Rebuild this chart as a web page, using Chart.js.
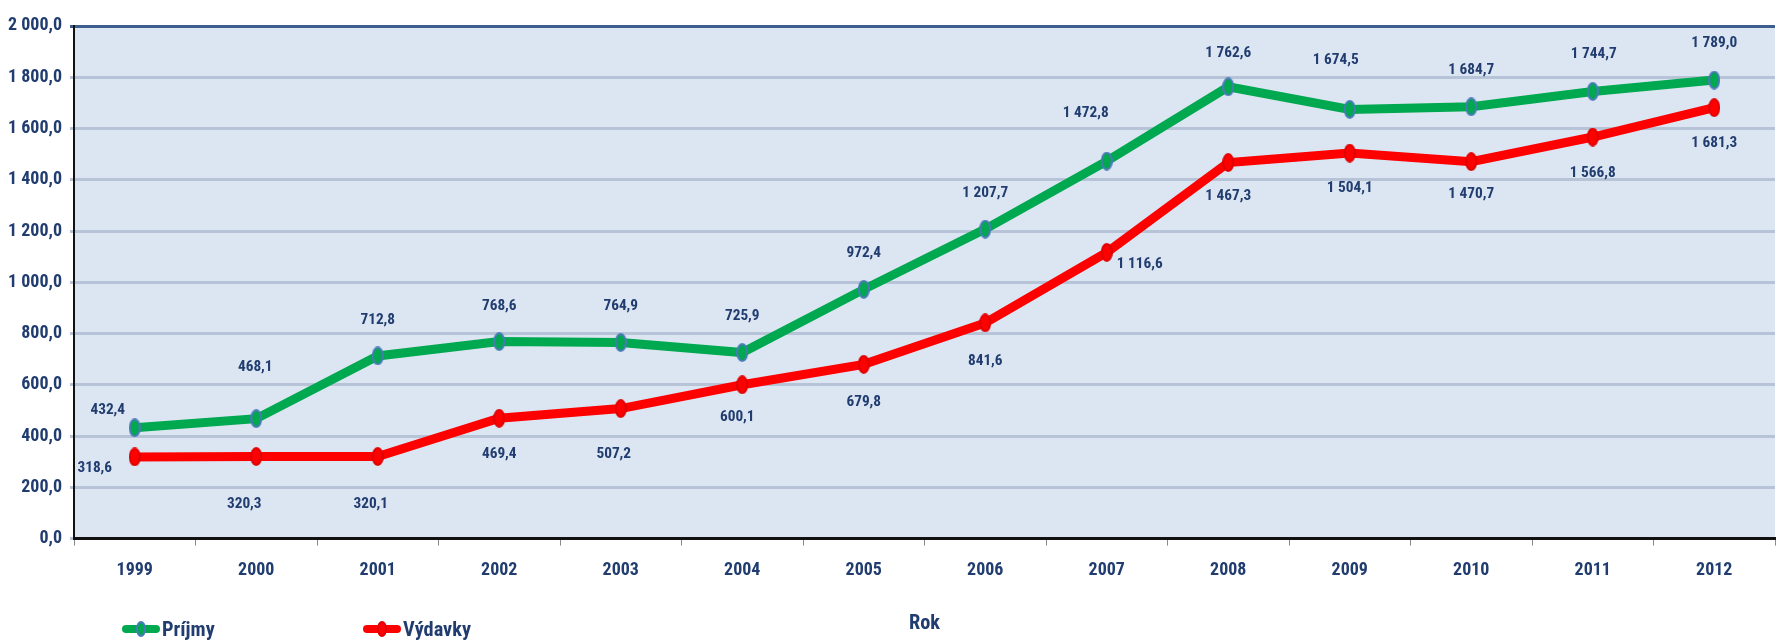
<!DOCTYPE html>
<html>
<head>
<meta charset="utf-8">
<script src="https://cdn.jsdelivr.net/npm/chart.js@4.4.1/dist/chart.umd.min.js"></script>
<style>
  html, body { margin: 0; padding: 0; background: #fff; overflow: hidden; }
  #wrap { position: relative; width: 1792px; height: 641px; }
  #legend { position: absolute; left: 0; top: 616px; width: 1000px; height: 26px; }
  .item { position: absolute; top: 0; height: 26px; display: flex; align-items: center; font-weight: bold; color: #213d70; }
  .mark { position: relative; width: 38px; height: 8px; border-radius: 4px; margin-right: 2px; }
  .mark i { position: absolute; left: 14px; top: -4px; width: 10px; height: 16px; border-radius: 50%;
            box-sizing: border-box; border: 2px solid; }
</style>
</head>
<body>
<div id="wrap">
  <canvas id="chart" width="1792" height="641"></canvas>
  <div id="legend"></div>
</div>
<script>
const years = ['1999', '2000', '2001', '2002', '2003', '2004', '2005', '2006', '2007', '2008', '2009', '2010', '2011', '2012']
const prijmy = [432.4, 468.1, 712.8, 768.6, 764.9, 725.9, 972.4, 1207.7, 1472.8, 1762.6, 1674.5, 1684.7, 1744.7, 1789.0]
const vydavky = [318.6, 320.3, 320.1, 469.4, 507.2, 600.1, 679.8, 841.6, 1116.6, 1467.3, 1504.1, 1470.7, 1566.8, 1681.3]
const seriesNames = ['Príjmy', 'Výdavky']
const axisTitle = 'Rok'

// where each value label sits, relative to its point (px)
const labelShift = [
    [[-27, -18], [-1, -51], [0, -36], [0, -35], [0, -36], [0, -36], [0, -36], [0, -36], [-21, -48], [0, -34], [-14, -49], [0, -37], [1, -37], [0, -37]],
    [[-40, 11], [-12, 48], [-7, 48], [0, 36], [-7, 46], [-5, 32], [0, 38], [0, 38], [33, 12], [0, 34], [0, 35], [0, 33], [0, 36], [0, 35]]
]
const textColor = '#213d70'

// the original uses a narrow bold face; take the narrowest one we have
function pickFamily() {
    const g = document.createElement('canvas').getContext('2d')
    const probe = '2 000,0 Príjmy Výdavky'
    const w = f => { g.font = 'bold 40px ' + f; return g.measureText(probe).width }
    const mono = w('monospace'), ser = w('serif')
    const cands = ["'Liberation Sans Narrow'", "'Arial Narrow'", "'Roboto Condensed'", "'Open Sans Condensed'",
                   "'Noto Sans Condensed'", "'DejaVu Sans Condensed'"]
    for (const f of cands) {
        if (w(f + ', monospace') !== mono || w(f + ', serif') !== ser) return f
    }
    return 'sans-serif'
}
const narrow = pickFamily()
function fitSize(text, base, target, lo, hi) {
    const g = document.createElement('canvas').getContext('2d')
    g.font = 'bold ' + base + 'px ' + narrow
    const s = base * target / g.measureText(text).width
    return Math.max(lo, Math.min(hi, s))
}
const tickSize = fitSize('2 000,0', 18, 54, 14, 20)
const labelSize = fitSize('1 207,7', 15, 46, 12, 17)
const legendSize = fitSize('Výdavky', 19, 68, 15, 21)

function fmt(v) {
    const parts = v.toFixed(1).split('.')
    return parts[0].replace(/\B(?=(\d{3})+(?!\d))/g, ' ') + ',' + parts[1]
}

function oval(fill, stroke) {
    const c = document.createElement('canvas')
    c.width = 12; c.height = 19
    const g = c.getContext('2d')
    g.beginPath()
    g.ellipse(6, 9.5, 5, 8.5, 0, 0, Math.PI * 2)
    g.fillStyle = fill
    g.fill()
    g.lineWidth = 2
    g.strokeStyle = stroke
    g.stroke()
    return c
}

const plotBackground = {
    id: 'plotBackground',
    beforeDraw(chart) {
        const { ctx, chartArea: a } = chart
        ctx.save()
        ctx.fillStyle = '#dce6f2'
        ctx.fillRect(a.left, a.top, a.right - a.left, a.bottom - a.top)
        ctx.restore()
    }
}

const valueLabels = {
    id: 'valueLabels',
    afterDatasetsDraw(chart) {
        const ctx = chart.ctx
        ctx.save()
        ctx.font = 'bold ' + labelSize + 'px ' + narrow
        ctx.fillStyle = textColor
        ctx.textAlign = 'center'
        ctx.textBaseline = 'middle'
        chart.data.datasets.forEach((ds, d) => {
            chart.getDatasetMeta(d).data.forEach((pt, i) => {
                const s = labelShift[d][i]
                ctx.fillText(fmt(ds.data[i]), pt.x + s[0], pt.y + s[1])
            })
        })
        ctx.restore()
    }
}

const colors = [
    { line: '#00a84f', fill: '#00a84f', edge: '#4a7ab8' },
    { line: '#ff0000', fill: '#ff0000', edge: '#e00000' }
]

const chart = new Chart(document.getElementById('chart'), {
    type: 'line',
    data: {
        labels: years,
        datasets: [prijmy, vydavky].map((vals, k) => ({
            label: seriesNames[k],
            data: vals,
            borderColor: colors[k].line,
            borderWidth: 9,
            tension: 0,
            pointStyle: oval(colors[k].fill, colors[k].edge),
            pointRadius: 8
        }))
    },
    options: {
        responsive: false,
        animation: false,
        layout: { padding: { top: 26, right: 0, bottom: 0, left: 0 } },
        plugins: {
            legend: { display: false },
            tooltip: { enabled: false }
        },
        scales: {
            x: {
                offset: true,
                grid: { drawOnChartArea: false, offset: true, tickLength: 7, color: '#8a8a8a', lineWidth: 1 },
                border: { color: '#111', width: 3 },
                ticks: { color: textColor, font: { family: narrow, size: tickSize, weight: 'bold', lineHeight: '21.6px' }, padding: 14, maxRotation: 0 },
                title: {
                    display: true, text: axisTitle, color: textColor,
                    font: { family: narrow, size: legendSize, weight: 'bold', lineHeight: '22.8px' },
                    padding: { top: 17, bottom: 6 }
                }
            },
            y: {
                min: 0,
                max: 2000,
                afterFit(scale) { scale.width = 74 },
                grid: {
                    color: c => c.tick.value === 2000 ? '#3e5f8e' : '#b7c3d6',
                    lineWidth: 3,
                    tickLength: 4
                },
                border: { color: '#111', width: 2 },
                ticks: {
                    stepSize: 200,
                    color: textColor,
                    font: { family: narrow, size: tickSize, weight: 'bold' },
                    padding: 8,
                    callback: v => fmt(v)
                }
            }
        }
    },
    plugins: [plotBackground, valueLabels]
})

const legendLeft = [122, 363]
const legend = document.getElementById('legend')
chart.data.datasets.forEach((ds, k) => {
    const item = document.createElement('div')
    item.className = 'item'
    item.style.left = legendLeft[k] + 'px'
    item.style.fontFamily = narrow
    item.style.fontSize = legendSize + 'px'
    const mark = document.createElement('span')
    mark.className = 'mark'
    mark.style.background = colors[k].line
    const dot = document.createElement('i')
    dot.style.background = colors[k].fill
    dot.style.borderColor = colors[k].edge
    mark.appendChild(dot)
    item.appendChild(mark)
    item.appendChild(document.createTextNode(ds.label))
    legend.appendChild(item)
})
</script>
</body>
</html>
